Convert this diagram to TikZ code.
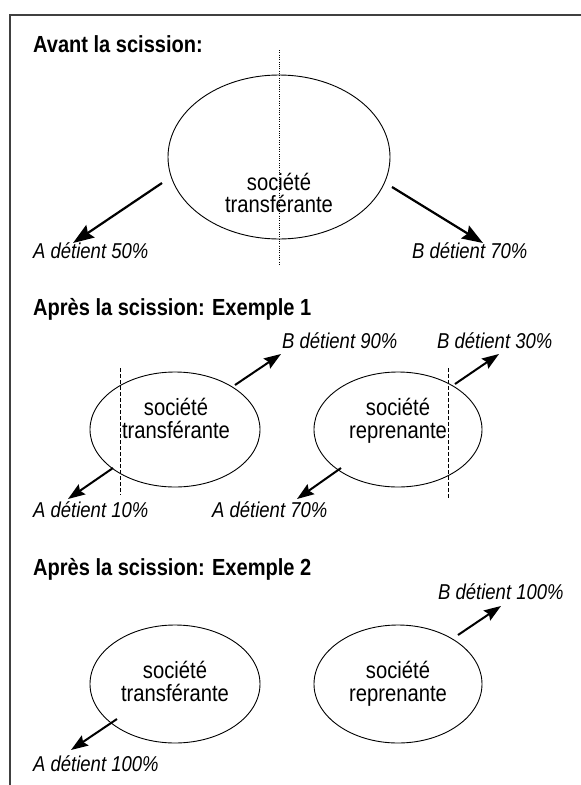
\documentclass[tikz,border=0pt]{standalone}
\usepackage{fontspec}
\setmainfont{Liberation Sans}[FakeStretch=0.86]
\usetikzlibrary{arrows.meta,shapes.geometric}
\tikzset{
  frameline/.style={line width=1.5pt, draw=black!75, line cap=rect},
  firm/.style={ellipse, draw, line width=0.9pt, inner sep=0pt},
  firmtext/.style={anchor=base, inner sep=0pt, font=\fontsize{23.5}{24}\selectfont},
  heading/.style={anchor=base west, inner sep=0pt, font=\fontsize{23.3}{26}\selectfont\bfseries},
  share/.style={anchor=base west, inner sep=0pt, font=\fontsize{21.5}{24}\selectfont\itshape},
  bigarrow/.style={line width=2.2pt, -{Stealth[length=21pt,width=15pt,inset=3pt]}},
  smallarrow/.style={line width=2pt, -{Stealth[length=17pt,width=12pt,inset=2.5pt]}},
  dotline/.style={line width=0.8pt, dash pattern=on 0.9pt off 1.4pt},
  dashline/.style={line width=1pt, dash pattern=on 3.5pt off 2.5pt},
}
\begin{document}
\begin{tikzpicture}[x=1pt,y=-1pt]
\useasboundingbox (0,0) rectangle (581,785);
% frame
\coordinate (fr1) at (581,15);
\coordinate (fr2) at (10,15);
\coordinate (fr3) at (10,785);
\draw[frameline] (fr1) -- (fr2) -- (fr3);

% ---------- Section 1 ----------
\node[heading] (h1) at (33,52) {Avant la scission:};
\node[firm, minimum width=222pt, minimum height=164pt] (e0) at (279,157) {};
\coordinate (d0a) at (279,50);
\coordinate (d0b) at (279,265);
\draw[dotline] (d0a) -- (d0b);
\node[firmtext] (t0a) at (279,190) {société};
\node[firmtext] (t0b) at (279,212) {transférante};
\coordinate (a0s) at (162,183);
\coordinate (a0t) at (73,243);
\coordinate (b0s) at (392,187);
\coordinate (b0t) at (483,243);
\draw[bigarrow] (a0s) -- (a0t);
\draw[bigarrow] (b0s) -- (b0t);
\node[share] (la0) at (33,258) {A détient 50\%};
\node[share] (lb0) at (412,258) {B détient 70\%};

% ---------- Section 2 ----------
\node[heading] (h2) at (33,315) {Après la scission: Exemple 1};
\node[firm, minimum width=170pt, minimum height=115pt] (e1) at (175,429.5) {};
\node[firm, minimum width=168pt, minimum height=115pt] (e2) at (398,429.5) {};
\coordinate (d1a) at (120,368);
\coordinate (d1b) at (120,495);
\coordinate (d2a) at (448,368);
\coordinate (d2b) at (448,499);
\draw[dashline] (d1a) -- (d1b);
\draw[dashline] (d2a) -- (d2b);
\node[firmtext] (t1a) at (176,415) {société};
\node[firmtext] (t1b) at (176,438) {transférante};
\node[firmtext] (t2a) at (398,415) {société};
\node[firmtext] (t2b) at (398,438) {reprenante};
\coordinate (b1s) at (235,385);
\coordinate (b1t) at (281,354);
\coordinate (a1s) at (113,468);
\coordinate (a1t) at (68,499);
\coordinate (b2s) at (455,384);
\coordinate (b2t) at (499,354);
\coordinate (a2s) at (341,468);
\coordinate (a2t) at (297,499);
\draw[smallarrow] (b1s) -- (b1t);
\draw[smallarrow] (a1s) -- (a1t);
\draw[smallarrow] (b2s) -- (b2t);
\draw[smallarrow] (a2s) -- (a2t);
\node[share] (lb1) at (282,348) {B détient 90\%};
\node[share] (la1) at (33,517) {A détient 10\%};
\node[share] (lb2) at (437,348) {B détient 30\%};
\node[share] (la2) at (212,517) {A détient 70\%};

% ---------- Section 3 ----------
\node[heading] (h3) at (33,575) {Après la scission: Exemple 2};
\node[firm, minimum width=170pt, minimum height=118pt] (e3) at (175,684) {};
\node[firm, minimum width=168pt, minimum height=118pt] (e4) at (398,684) {};
\node[firmtext] (t3a) at (175,678) {société};
\node[firmtext] (t3b) at (175,701) {transférante};
\node[firmtext] (t4a) at (398,678) {société};
\node[firmtext] (t4b) at (398,701) {reprenante};
\coordinate (a3s) at (117,719);
\coordinate (a3t) at (71,750);
\coordinate (b4s) at (458,635);
\coordinate (b4t) at (501,606);
\draw[smallarrow] (a3s) -- (a3t);
\draw[smallarrow] (b4s) -- (b4t);
\node[share] (la3) at (33,771) {A détient 100\%};
\node[share] (lb4) at (438,599) {B détient 100\%};
\end{tikzpicture}
\end{document}
